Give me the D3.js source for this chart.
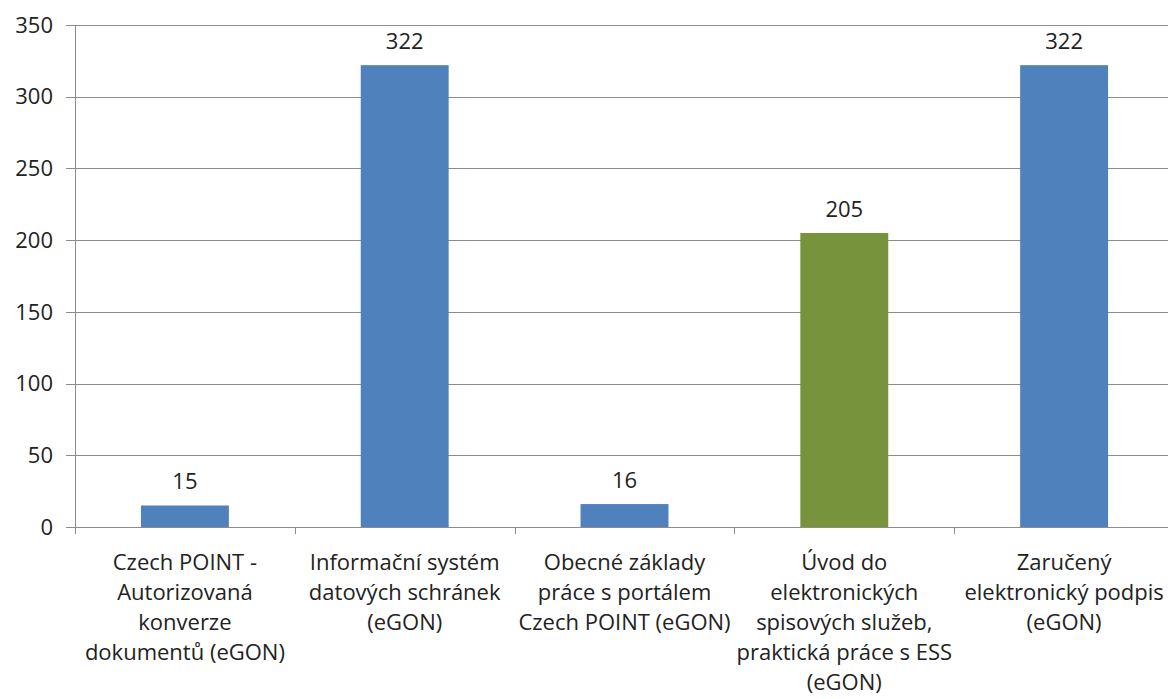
<!DOCTYPE html>
<html>
<head>
<meta charset="utf-8">
<script src="https://cdn.jsdelivr.net/npm/d3@7"></script>
<style>
  body { margin: 0; background: #fff; }
  svg { display: block; font-family: "Open Sans", Lato, sans-serif; }
</style>
</head>
<body>
<svg id="chart" width="1168" height="699"></svg>
<script>
// chart data
const categories = [
  ["Czech POINT -", "Autorizovaná", "konverze", "dokumentů (eGON)"],
  ["Informační systém", "datových schránek", "(eGON)"],
  ["Obecné základy", "práce s portálem", "Czech POINT (eGON)"],
  ["Úvod do", "elektronických", "spisových služeb,", "praktická práce s ESS", "(eGON)"],
  ["Zaručený", "elektronický podpis", "(eGON)"]
];
const values = [15, 322, 16, 205, 322];
const barColors = ["#4F81BD", "#4F81BD", "#4F81BD", "#77933C", "#4F81BD"];
const yTicks = [0, 50, 100, 150, 200, 250, 300, 350];

const svg = d3.select("#chart");
const plotLeft = 75, plotRight = 1174, plotTop = 25, plotBottom = 527;
const fontSize = 22;

const x = d3.scaleBand()
  .domain(d3.range(categories.length))
  .range([plotLeft, plotRight])
  .paddingInner(0.6)
  .paddingOuter(0.3);

const y = d3.scaleLinear().domain([0, 350]).range([plotBottom, plotTop]);

const step = x.step();
const gridColor = "#8c8c8c";

// horizontal grid lines + y tick marks
svg.append("g").selectAll("line")
  .data(yTicks)
  .join("line")
  .attr("x1", plotLeft - 9).attr("x2", plotRight)
  .attr("y1", d => Math.round(y(d)) + 0.5).attr("y2", d => Math.round(y(d)) + 0.5)
  .attr("stroke", gridColor).attr("stroke-width", 1);

// y labels
svg.append("g").selectAll("text")
  .data(yTicks)
  .join("text")
  .attr("x", plotLeft - 22)
  .attr("y", d => y(d))
  .attr("dy", "0.35em")
  .attr("text-anchor", "end")
  .attr("font-size", fontSize)
  .attr("fill", "#222")
  .text(d => d);

// y axis line
svg.append("line")
  .attr("x1", plotLeft + 0.5).attr("x2", plotLeft + 0.5)
  .attr("y1", plotTop).attr("y2", plotBottom + 7)
  .attr("stroke", gridColor);

// category separator ticks
svg.append("g").selectAll("line")
  .data(d3.range(1, categories.length + 1))
  .join("line")
  .attr("x1", i => Math.round(plotLeft + i * step) + 0.5)
  .attr("x2", i => Math.round(plotLeft + i * step) + 0.5)
  .attr("y1", plotBottom).attr("y2", plotBottom + 7)
  .attr("stroke", gridColor);

// bars
svg.append("g").selectAll("rect")
  .data(values)
  .join("rect")
  .attr("x", (d, i) => x(i))
  .attr("width", x.bandwidth())
  .attr("y", d => y(d))
  .attr("height", d => y(0) - y(d))
  .attr("fill", (d, i) => barColors[i]);

// value labels
svg.append("g").selectAll("text")
  .data(values)
  .join("text")
  .attr("x", (d, i) => x(i) + x.bandwidth() / 2)
  .attr("y", d => y(d) - 16)
  .attr("text-anchor", "middle")
  .attr("font-size", fontSize)
  .attr("fill", "#222")
  .text(d => d);

// category labels
const catText = svg.append("g").selectAll("text")
  .data(categories)
  .join("text")
  .attr("x", (d, i) => x(i) + x.bandwidth() / 2)
  .attr("y", 570)
  .attr("text-anchor", "middle")
  .attr("font-size", fontSize)
  .attr("fill", "#222");

catText.selectAll("tspan")
  .data(d => d)
  .join("tspan")
  .attr("x", function () { return this.parentNode.getAttribute("x"); })
  .attr("dy", (d, i) => i === 0 ? 0 : 30)
  .text(d => d);
</script>
</body>
</html>
